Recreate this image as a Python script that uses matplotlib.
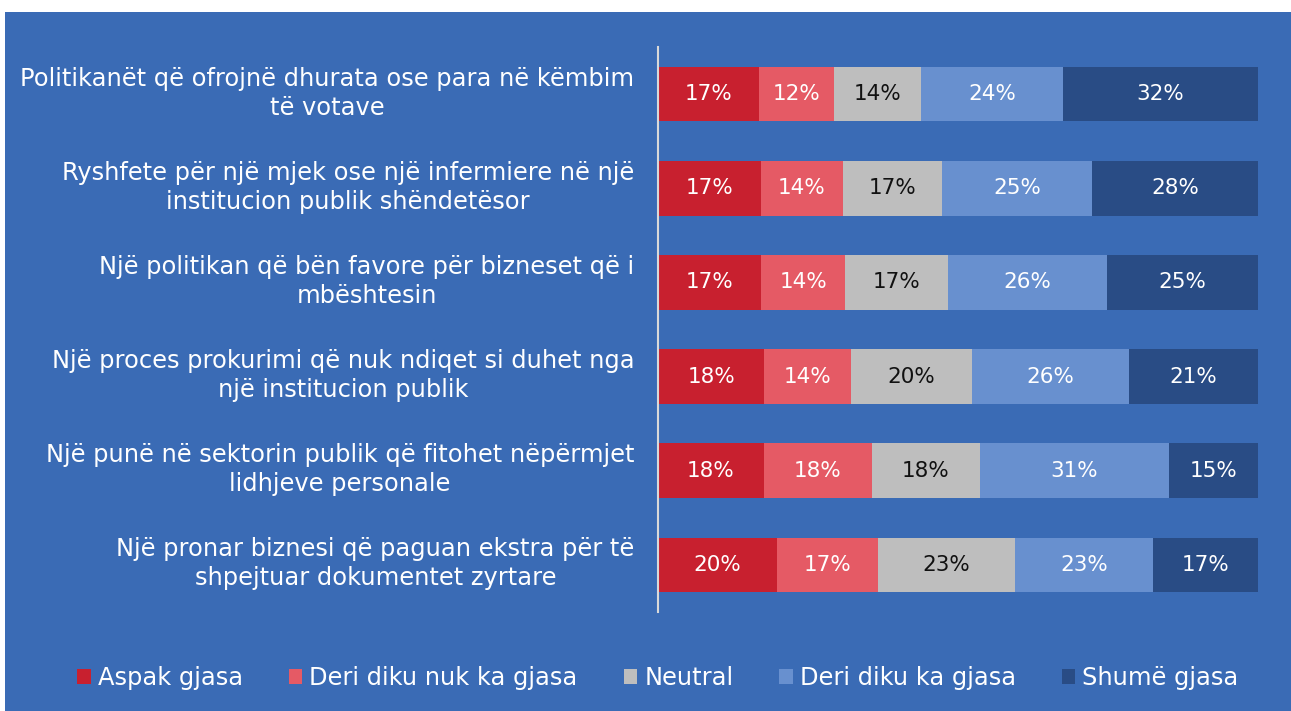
import matplotlib
matplotlib.use("Agg")
import matplotlib.pyplot as plt
from matplotlib.patches import Rectangle
from matplotlib.transforms import ScaledTranslation
import numpy as np

categories = [
    "Politikanët që ofrojnë dhurata ose para në këmbim\ntë votave",
    "Ryshfete për një mjek ose një infermiere në një\ninstitucion publik shëndetësor",
    "Një politikan që bën favore për bizneset që i\nmbështesin",
    "Një proces prokurimi që nuk ndiqet si duhet nga\nnjë institucion publik",
    "Një punë në sektorin publik që fitohet nëpërmjet\nlidhjeve personale",
    "Një pronar biznesi që paguan ekstra për të\nshpejtuar dokumentet zyrtare",
]
series = ["Aspak gjasa", "Deri diku nuk ka gjasa", "Neutral", "Deri diku ka gjasa", "Shumë gjasa"]

aspak = [16.9, 17.1, 17.2, 17.7, 17.6, 19.9]
nuk_ka = [12.5, 13.7, 14.0, 14.5, 18.1, 16.8]
neutral = [14.4, 16.6, 17.1, 20.1, 17.9, 22.8]
ka = [23.7, 25.0, 26.5, 26.2, 31.5, 23.0]
shume = [32.5, 27.6, 25.2, 21.5, 14.9, 17.5]

lbl_aspak = [17, 17, 17, 18, 18, 20]
lbl_nuk_ka = [12, 14, 14, 14, 18, 17]
lbl_neutral = [14, 17, 17, 20, 18, 23]
lbl_ka = [24, 25, 26, 26, 31, 23]
lbl_shume = [32, 28, 25, 21, 15, 17]

values = [aspak, nuk_ka, neutral, ka, shume]
labels = [lbl_aspak, lbl_nuk_ka, lbl_neutral, lbl_ka, lbl_shume]
colors = ["#C8202F", "#E55A65", "#BEBEBE", "#6890CF", "#294C85"]
text_colors = ["white", "white", "#111111", "white", "white"]

BG = "#3A6BB5"
plt.rcParams["font.family"] = ["DejaVu Sans"]

W, H = 1291, 711
fig = plt.figure(figsize=(W / 100, H / 100), dpi=100)
fig.patch.set_facecolor("white")
fig.add_artist(Rectangle((5 / W, 0), 1 - 5 / W, 1 - 12 / H, transform=fig.transFigure,
                         facecolor=BG, edgecolor="none", zorder=0))

ax = fig.add_axes([658 / W, 1 - 612 / H, 600 / W, 565 / H])
ax.set_facecolor("none")

y = np.arange(len(categories))
left = np.zeros(len(categories))
for vals, labs, c, tc, name in zip(values, labels, colors, text_colors, series):
    bars = ax.barh(y, vals, left=left, height=0.58, color=c, label=name, edgecolor="none")
    for b, v, l in zip(bars, vals, labs):
        ax.text(b.get_x() + b.get_width() / 2, b.get_y() + b.get_height() / 2,
                f"{l}%", ha="center", va="center", color=tc, fontsize=15.5)
    left += np.array(vals)

ax.set_xlim(0, 100)
ax.set_ylim(len(categories) - 0.5, -0.5)
ax.set_yticks(y)
ax.set_yticklabels(categories, fontsize=17.4, color="white", multialignment="center",
                   linespacing=1.26)
ax.tick_params(axis="y", length=0, pad=17)
shift = ScaledTranslation(0, 0.06, fig.dpi_scale_trans)
for t in ax.get_yticklabels():
    t.set_transform(t.get_transform() + shift)
ax.set_xticks([])
for s in ["top", "right", "bottom"]:
    ax.spines[s].set_visible(False)
ax.spines["left"].set_color("#D9D9D9")
ax.spines["left"].set_linewidth(1.5)

leg = fig.legend(loc="center", bbox_to_anchor=(0.5 + 12.5 / W, 1 - 678 / H), ncol=5,
                 frameon=False, fontsize=17.4, handlelength=0.55, handleheight=0.55,
                 handletextpad=0.3, columnspacing=1.9, labelcolor="white")

fig.savefig("out.png", dpi=100, facecolor=fig.get_facecolor())
